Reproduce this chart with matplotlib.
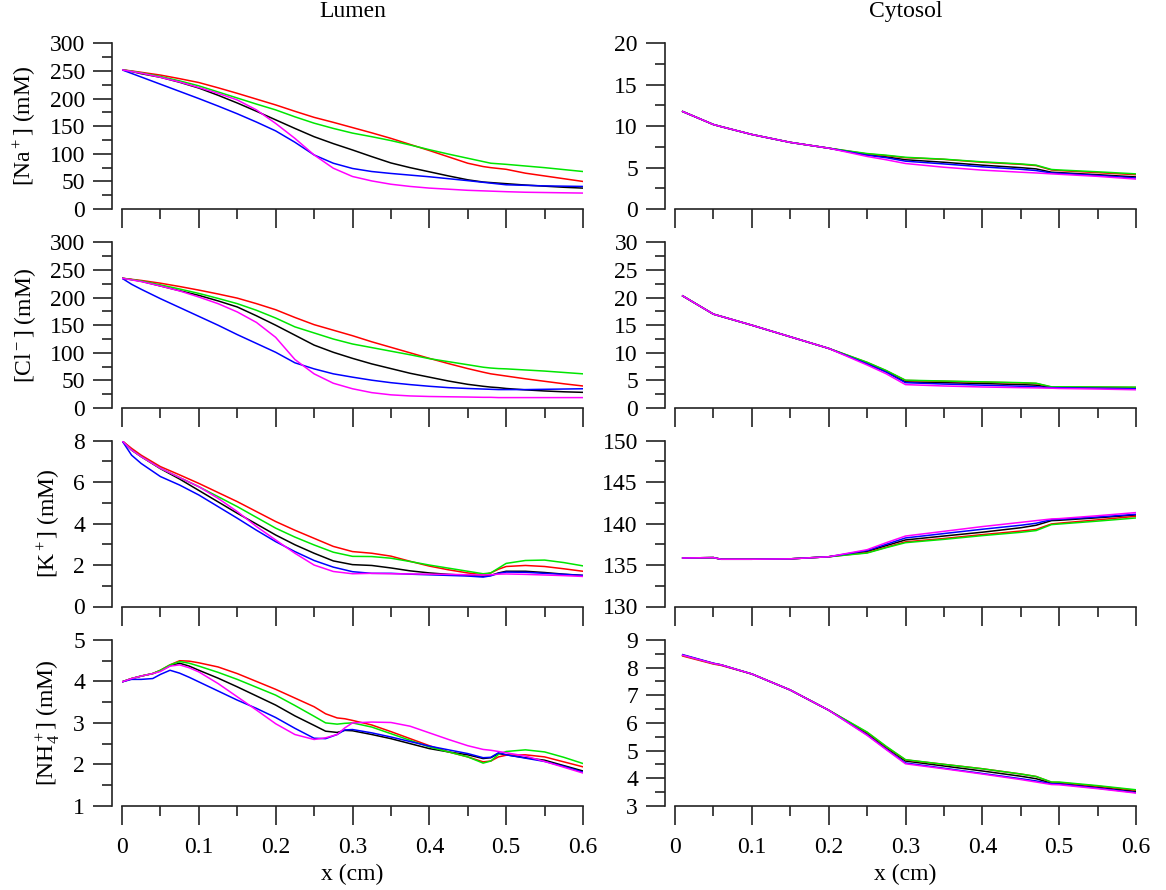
import numpy as np
import matplotlib
matplotlib.use("Agg")
import matplotlib.pyplot as plt
from matplotlib.ticker import MultipleLocator, FuncFormatter

plt.rcParams['font.family'] = ['Liberation Serif', 'DejaVu Serif']
plt.rcParams['mathtext.fontset'] = 'custom'
plt.rcParams['mathtext.rm'] = 'Liberation Serif'
plt.rcParams['mathtext.it'] = 'Liberation Serif:italic'

# ---------------- Lumen profiles ----------------
x_lumen = [0, 0.0125, 0.025, 0.05, 0.075, 0.1, 0.125, 0.15, 0.175, 0.2, 0.225,
           0.25, 0.275, 0.3, 0.325, 0.35, 0.375, 0.4, 0.425, 0.45, 0.47, 0.48,
           0.49, 0.5, 0.525, 0.55, 0.575, 0.6]

na_lum_black = [252, 249, 245, 238.5, 229.5, 219, 206, 192, 177, 161.5, 146, 131, 118.5, 107, 95, 83.5, 75, 67.5, 60, 53, 49, 48, 47, 46, 43.5, 41.5, 39.5, 38]
na_lum_red = [252, 250, 247.5, 242.5, 236, 229, 219.5, 209.5, 199, 188.5, 177, 166, 157, 147.5, 138, 128, 117, 106, 94.5, 83, 77, 75, 73.5, 72, 65, 60, 55, 50]
na_lum_green = [252, 249.5, 246.5, 240, 232, 223, 212, 201, 190, 179.5, 167, 155.5, 146, 137.5, 131, 124, 116, 107.5, 99.5, 92, 86, 83, 82, 81, 78, 75, 71.5, 68]
na_lum_blue = [252, 245.5, 239, 226, 213, 200, 186.5, 172.5, 157.5, 141.5, 121, 98, 83, 73.5, 68, 64.5, 61.5, 58.5, 55, 51.5, 48.5, 47, 45.5, 44, 43, 42, 41.5, 41]
na_lum_magenta = [252, 249, 246, 238.5, 230, 220, 209.5, 197.5, 179.5, 155, 128, 98, 74, 59, 51, 45, 41, 38, 36, 34, 33, 32.5, 32, 31.5, 30.5, 30, 29.5, 29]

cl_lum_black = [235, 232.5, 229.5, 221, 212.5, 204, 194, 183, 167, 150, 132, 114, 101, 90, 80, 71.5, 63, 56, 49, 43, 39.5, 38, 37, 35.5, 33, 31, 29.5, 28.5]
cl_lum_red = [235, 233, 231, 226, 220, 213.5, 206.5, 199, 189, 178, 164, 151, 141, 131, 120, 110, 100, 90, 80.5, 71.5, 65, 62, 60, 58, 53, 48.5, 44, 40]
cl_lum_green = [235, 232.5, 230, 223, 215.5, 207.5, 198.5, 189, 177, 163, 147, 136, 125, 116, 109.5, 103, 96.5, 89.5, 84, 78.5, 74, 72.5, 71.5, 71, 69, 67, 64.5, 62]
cl_lum_blue = [235, 224, 215, 198, 182, 166, 150, 133, 117, 101, 82, 71, 62, 56, 50.5, 46, 42.5, 39.5, 37, 35.5, 34.5, 34, 33.5, 33.5, 33.5, 34, 34.5, 35]
cl_lum_magenta = [235, 232, 229, 221, 212, 201, 189, 174, 155, 128, 88, 62, 45, 35, 28, 24, 22, 21, 20.5, 20, 19.5, 19.5, 19, 19, 19, 19, 19, 19]

k_lum_black = [8, 7.55, 7.23, 6.65, 6.15, 5.6, 5.05, 4.5, 3.98, 3.45, 2.98, 2.57, 2.2, 2.02, 1.98, 1.86, 1.72, 1.62, 1.55, 1.5, 1.46, 1.5, 1.62, 1.7, 1.7, 1.64, 1.56, 1.5]
k_lum_red = [8, 7.63, 7.3, 6.75, 6.35, 5.94, 5.5, 5.06, 4.58, 4.1, 3.68, 3.29, 2.9, 2.65, 2.57, 2.43, 2.18, 1.95, 1.77, 1.62, 1.53, 1.62, 1.8, 1.93, 1.98, 1.93, 1.82, 1.7]
k_lum_green = [8, 7.55, 7.23, 6.67, 6.22, 5.78, 5.3, 4.82, 4.3, 3.78, 3.35, 2.97, 2.62, 2.42, 2.41, 2.33, 2.17, 2.0, 1.85, 1.7, 1.58, 1.62, 1.85, 2.08, 2.22, 2.24, 2.12, 1.96]
k_lum_blue = [8, 7.3, 6.9, 6.27, 5.86, 5.38, 4.82, 4.26, 3.68, 3.13, 2.65, 2.22, 1.9, 1.68, 1.6, 1.6, 1.56, 1.53, 1.5, 1.47, 1.42, 1.48, 1.6, 1.66, 1.65, 1.6, 1.55, 1.5]
k_lum_magenta = [8, 7.55, 7.23, 6.67, 6.22, 5.78, 5.22, 4.58, 3.86, 3.21, 2.57, 2.0, 1.69, 1.58, 1.6, 1.58, 1.57, 1.56, 1.55, 1.53, 1.52, 1.53, 1.56, 1.57, 1.55, 1.52, 1.49, 1.45]

x_nh4_lumen = [0, 0.0125, 0.025, 0.04, 0.05, 0.0625, 0.075, 0.0875, 0.1, 0.125,
               0.15, 0.175, 0.2, 0.225, 0.25, 0.265, 0.28, 0.29, 0.3, 0.325,
               0.35, 0.375, 0.4, 0.425, 0.45, 0.47, 0.48, 0.49, 0.5, 0.525,
               0.55, 0.575, 0.6]
nh4_lum_black = [3.99, 4.07, 4.13, 4.19, 4.26, 4.38, 4.44, 4.37, 4.27, 4.08, 3.87, 3.65, 3.43, 3.17, 2.94, 2.8, 2.77, 2.82, 2.81, 2.72, 2.62, 2.5, 2.38, 2.3, 2.23, 2.14, 2.16, 2.26, 2.23, 2.16, 2.1, 1.97, 1.84]
nh4_lum_red = [3.99, 4.07, 4.13, 4.19, 4.27, 4.4, 4.5, 4.49, 4.45, 4.35, 4.19, 4.0, 3.81, 3.6, 3.39, 3.22, 3.12, 3.1, 3.06, 2.95, 2.79, 2.62, 2.45, 2.3, 2.18, 2.06, 2.08, 2.18, 2.22, 2.23, 2.18, 2.06, 1.94]
nh4_lum_green = [3.99, 4.07, 4.13, 4.19, 4.27, 4.4, 4.48, 4.44, 4.37, 4.22, 4.05, 3.86, 3.67, 3.42, 3.16, 3.0, 2.97, 2.99, 3.0, 2.9, 2.74, 2.58, 2.42, 2.3, 2.18, 2.03, 2.08, 2.24, 2.31, 2.35, 2.3, 2.17, 2.02]
nh4_lum_blue = [3.99, 4.05, 4.05, 4.07, 4.17, 4.27, 4.2, 4.1, 3.99, 3.77, 3.55, 3.35, 3.13, 2.87, 2.63, 2.62, 2.72, 2.83, 2.84, 2.76, 2.66, 2.55, 2.44, 2.35, 2.26, 2.16, 2.17, 2.28, 2.23, 2.15, 2.07, 1.95, 1.81]
nh4_lum_magenta = [3.99, 4.07, 4.13, 4.19, 4.24, 4.37, 4.4, 4.33, 4.23, 3.95, 3.63, 3.31, 2.98, 2.72, 2.6, 2.64, 2.72, 2.88, 3.0, 3.02, 3.01, 2.92, 2.76, 2.6, 2.45, 2.36, 2.34, 2.31, 2.28, 2.2, 2.07, 1.93, 1.79]

# ---------------- Cytosol profiles ----------------
x_cyto = [0.01, 0.05, 0.06, 0.1, 0.15, 0.2, 0.25, 0.275, 0.3, 0.35, 0.4,
          0.45, 0.47, 0.49, 0.5, 0.55, 0.6]

na_cyt_black = [11.77, 10.2, 9.95, 9.0, 8.05, 7.35, 6.55, 6.3, 5.95, 5.65, 5.3, 5.0, 4.85, 4.45, 4.4, 4.15, 3.88]
na_cyt_red = [11.77, 10.2, 9.95, 9.0, 8.05, 7.35, 6.65, 6.45, 6.2, 6.0, 5.65, 5.4, 5.25, 4.72, 4.65, 4.4, 4.15]
na_cyt_green = [11.77, 10.2, 9.95, 9.0, 8.05, 7.35, 6.7, 6.5, 6.25, 6.02, 5.7, 5.45, 5.3, 4.78, 4.72, 4.5, 4.25]
na_cyt_blue = [11.77, 10.2, 9.95, 9.0, 8.05, 7.35, 6.5, 6.2, 5.78, 5.45, 5.1, 4.8, 4.65, 4.36, 4.32, 4.05, 3.75]
na_cyt_magenta = [11.77, 10.2, 9.95, 9.0, 8.05, 7.35, 6.35, 5.95, 5.5, 5.05, 4.7, 4.45, 4.36, 4.25, 4.2, 3.95, 3.62]

cl_cyt_black = [20.3, 17.0, 16.6, 15.0, 12.9, 10.8, 8.1, 6.6, 4.75, 4.6, 4.45, 4.25, 4.15, 3.72, 3.7, 3.62, 3.52]
cl_cyt_red = [20.3, 17.0, 16.6, 15.0, 12.9, 10.8, 8.25, 6.75, 5.0, 4.85, 4.7, 4.55, 4.45, 3.8, 3.8, 3.77, 3.72]
cl_cyt_green = [20.3, 17.0, 16.6, 15.0, 12.9, 10.8, 8.3, 6.8, 5.05, 4.9, 4.75, 4.6, 4.5, 3.85, 3.85, 3.83, 3.8]
cl_cyt_blue = [20.3, 17.0, 16.6, 15.0, 12.9, 10.8, 8.0, 6.5, 4.6, 4.35, 4.15, 3.95, 3.85, 3.7, 3.68, 3.6, 3.5]
cl_cyt_magenta = [20.3, 17.0, 16.6, 15.0, 12.9, 10.8, 7.8, 6.2, 4.25, 4.0, 3.82, 3.7, 3.66, 3.6, 3.55, 3.45, 3.32]

k_cyt_black = [135.85, 135.9, 135.7, 135.7, 135.75, 136.0, 136.63, 137.35, 138.03, 138.5, 138.96, 139.5, 139.8, 140.36, 140.4, 140.7, 141.04]
k_cyt_red = [135.85, 135.9, 135.7, 135.7, 135.75, 136.0, 136.5, 137.15, 137.8, 138.2, 138.67, 139.1, 139.3, 139.96, 140.05, 140.45, 140.88]
k_cyt_green = [135.85, 135.9, 135.7, 135.7, 135.75, 136.0, 136.45, 137.1, 137.7, 138.1, 138.55, 138.95, 139.16, 139.88, 139.95, 140.3, 140.68]
k_cyt_blue = [135.85, 135.9, 135.7, 135.7, 135.75, 136.0, 136.75, 137.5, 138.27, 138.8, 139.32, 139.8, 140.04, 140.48, 140.52, 140.8, 141.12]
k_cyt_magenta = [135.85, 135.9, 135.7, 135.7, 135.75, 136.0, 136.85, 137.7, 138.5, 139.07, 139.64, 140.15, 140.36, 140.56, 140.6, 140.95, 141.33]

nh4_cyt_black = [8.45, 8.15, 8.1, 7.77, 7.19, 6.46, 5.62, 5.1, 4.62, 4.44, 4.26, 4.07, 3.98, 3.82, 3.81, 3.67, 3.52]
nh4_cyt_red = [8.42, 8.13, 8.08, 7.77, 7.19, 6.46, 5.65, 5.13, 4.66, 4.5, 4.34, 4.15, 4.06, 3.85, 3.84, 3.71, 3.56]
nh4_cyt_green = [8.45, 8.15, 8.1, 7.77, 7.19, 6.46, 5.67, 5.15, 4.67, 4.5, 4.34, 4.15, 4.06, 3.86, 3.86, 3.73, 3.58]
nh4_cyt_blue = [8.47, 8.16, 8.1, 7.77, 7.19, 6.46, 5.57, 5.05, 4.55, 4.36, 4.17, 3.98, 3.9, 3.8, 3.79, 3.64, 3.48]
nh4_cyt_magenta = [8.45, 8.15, 8.1, 7.77, 7.19, 6.46, 5.55, 5.03, 4.52, 4.34, 4.15, 3.95, 3.86, 3.77, 3.76, 3.62, 3.46]

series_colors = ['black', 'red', '#00e600', 'blue', '#ff00ff']

panels = [
    # (column, row, x, series, ylim, major, minor, ylabel)
    (0, 0, x_lumen, [na_lum_black, na_lum_red, na_lum_green, na_lum_blue, na_lum_magenta],
     (0, 300), 50, 25, r'[Na$^+$] (mM)'),
    (0, 1, x_lumen, [cl_lum_black, cl_lum_red, cl_lum_green, cl_lum_blue, cl_lum_magenta],
     (0, 300), 50, 25, r'[Cl$^-$] (mM)'),
    (0, 2, x_lumen, [k_lum_black, k_lum_red, k_lum_green, k_lum_blue, k_lum_magenta],
     (0, 8), 2, 1, r'[K$^+$] (mM)'),
    (0, 3, x_nh4_lumen, [nh4_lum_black, nh4_lum_red, nh4_lum_green, nh4_lum_blue, nh4_lum_magenta],
     (1, 5), 1, 0.5, r'[NH$_4^+$] (mM)'),
    (1, 0, x_cyto, [na_cyt_black, na_cyt_red, na_cyt_green, na_cyt_blue, na_cyt_magenta],
     (0, 20), 5, 2.5, None),
    (1, 1, x_cyto, [cl_cyt_black, cl_cyt_red, cl_cyt_green, cl_cyt_blue, cl_cyt_magenta],
     (0, 30), 5, 2.5, None),
    (1, 2, x_cyto, [k_cyt_black, k_cyt_red, k_cyt_green, k_cyt_blue, k_cyt_magenta],
     (130, 150), 5, 2.5, None),
    (1, 3, x_cyto, [nh4_cyt_black, nh4_cyt_red, nh4_cyt_green, nh4_cyt_blue, nh4_cyt_magenta],
     (3, 9), 1, 0.5, None),
]

W, H = 1166, 890
fig = plt.figure(figsize=(W / 100, H / 100), dpi=100)

col_left = [122, 675]
col_width = 461
row_top = [43.3, 242.3, 440.7, 640.0]
row_height = 165.8

FS = 17
for col, row, xs, ys_list, ylim, major, minor, ylabel in panels:
    left = col_left[col] / W
    bottom = 1 - (row_top[row] + row_height) / H
    ax = fig.add_axes([left, bottom, col_width / W, row_height / H])
    for ys, c in zip(ys_list, series_colors):
        ax.plot(xs, ys, color=c, lw=1.1, solid_joinstyle='round')
    ax.set_xlim(0, 0.6)
    ax.set_ylim(*ylim)
    ax.xaxis.set_major_locator(MultipleLocator(0.1))
    ax.xaxis.set_minor_locator(MultipleLocator(0.05))
    ax.yaxis.set_major_locator(MultipleLocator(major))
    ax.yaxis.set_minor_locator(MultipleLocator(minor))
    for s in ('top', 'right'):
        ax.spines[s].set_visible(False)
    ax.spines['left'].set_position(('outward', 7.2))
    for s in ('left', 'bottom'):
        ax.spines[s].set_linewidth(1.2)
        ax.spines[s].set_color('#222222')
    ax.tick_params(which='major', direction='out', length=13.5, width=1.2,
                   color='#222222', labelsize=FS)
    ax.tick_params(axis='y', which='major', pad=6)
    ax.tick_params(axis='x', which='major', pad=9)
    ax.tick_params(which='minor', direction='out', length=7, width=1.2,
                   color='#222222')
    ax.xaxis.set_major_formatter(FuncFormatter(
        lambda v, p: '0' if abs(v) < 1e-9 else f'{v:.1f}'))
    if row < 3:
        ax.tick_params(axis='x', labelbottom=False)
    else:
        ax.set_xlabel('x (cm)', fontsize=FS, labelpad=4)
    if ylabel:
        ax.set_ylabel(ylabel, fontsize=FS, labelpad=8)
    if row == 0:
        ax.set_title('Lumen' if col == 0 else 'Cytosol', fontsize=FS, pad=19)
    ax.patch.set_visible(False)

fig.savefig('out.png', dpi=100)
